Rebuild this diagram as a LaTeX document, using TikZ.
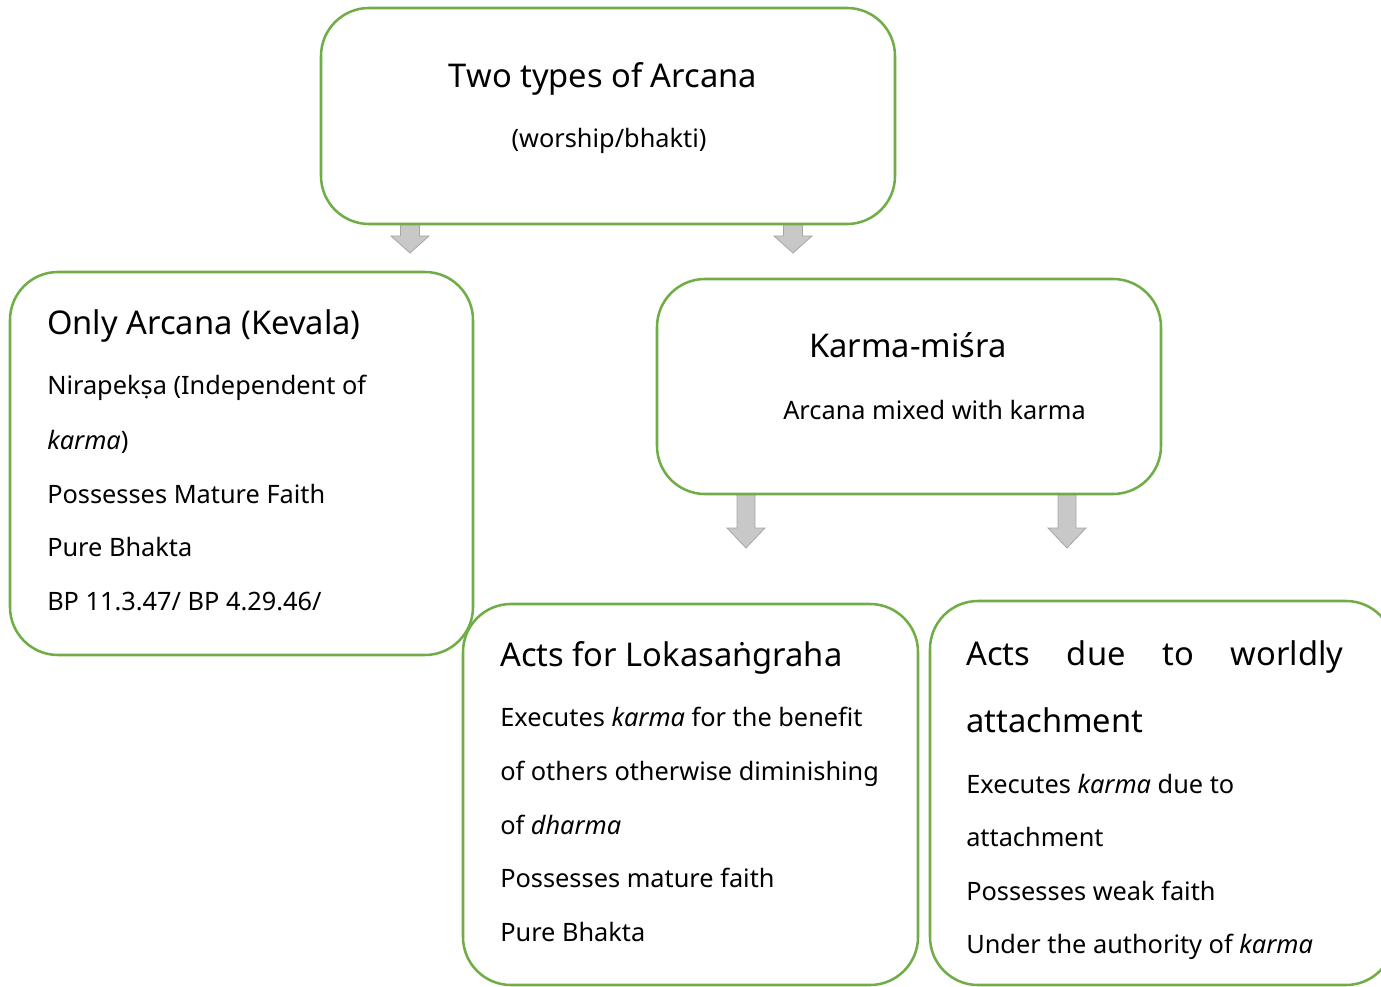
\documentclass[tikz,border=0pt]{standalone}
\usepackage{fontspec}
\setmainfont{Noto Sans}
\definecolor{boxgreen}{HTML}{70AD47}
\definecolor{arrowfill}{HTML}{C8C8C8}
\definecolor{arrowline}{HTML}{A6A6A6}
\newcommand{\headfont}{\fontsize{24.5pt}{30pt}\selectfont}
\newcommand{\bodyfont}{\fontsize{19pt}{24pt}\selectfont}
\tikzset{
  box/.style={draw=boxgreen, line width=1.9pt, rounded corners=36pt},
  blockarrow/.style={fill=arrowfill, draw=arrowline, line width=0.6pt},
  head/.style={anchor=base west, font=\headfont, inner sep=0pt},
  txt/.style={anchor=base west, font=\bodyfont, inner sep=0pt}
}
\begin{document}
\begin{tikzpicture}[x=0.75pt, y=-0.75pt]
\useasboundingbox (0,0) rectangle (1381,987);
\clip (0,0) rectangle (1381,987);
% block arrows
\filldraw[blockarrow] (400.5,224) -- (419.5,224) -- (419.5,236) -- (429,236) -- (410,253) -- (391,236) -- (400.5,236) -- cycle;
\filldraw[blockarrow] (783.5,224) -- (802.5,224) -- (802.5,236) -- (812,236) -- (793,253) -- (774,236) -- (783.5,236) -- cycle;
\filldraw[blockarrow] (737,494) -- (755,494) -- (755,528) -- (765,528) -- (746,548) -- (727,528) -- (737,528) -- cycle;
\filldraw[blockarrow] (1058,494) -- (1076,494) -- (1076,528) -- (1086,528) -- (1067,548) -- (1048,528) -- (1058,528) -- cycle;
% boxes
\draw[box] (321,8) rectangle (895,224);
\draw[box] (10,272) rectangle (473,655);
\draw[box] (657,279) rectangle (1161,494);
\draw[box] (463,604) rectangle (918,985);
\draw[box] (930,601) rectangle (1394,985);
% top box
\node[head, anchor=base] (title) at (603,88) {Two types of Arcana};
\node[txt, anchor=base] (titlesub) at (609,148) {(worship/bhakti)};
% only arcana
\node[head] (kevala) at (47,335) {Only Arcana (Kevala)};
\node[txt] (kevalaA) at (47,395) {Nirapekṣa (Independent of};
\node[txt] (kevalaB) at (47,449) {\textit{karma})};
\node[txt] (kevalaC) at (47,503) {Possesses Mature Faith};
\node[txt] (kevalaD) at (47,556) {Pure Bhakta};
\node[txt] (kevalaE) at (47,610) {BP 11.3.47/ BP 4.29.46/};
% karma-misra
\node[head] (misra) at (809,358) {Karma-miśra};
\node[txt] (misraA) at (783,420) {Arcana mixed with karma};
% lokasangraha
\node[head] (loka) at (500,666) {Acts for Lokasaṅgraha};
\node[txt] (lokaA) at (500,726) {Executes \textit{karma} for the benefit};
\node[txt] (lokaB) at (500,780) {of others otherwise diminishing};
\node[txt] (lokaC) at (500,834) {of \textit{dharma}};
\node[txt] (lokaD) at (500,887) {Possesses mature faith};
\node[txt] (lokaE) at (500,941) {Pure Bhakta};
% worldly attachment
\node[head] (world) at (966,665) {\makebox[282.75pt][s]{Acts due to worldly}};
\node[head] (worldB) at (966,732) {attachment};
\node[txt] (worldC) at (966,793) {Executes \textit{karma} due to};
\node[txt] (worldD) at (966,846) {attachment};
\node[txt] (worldE) at (966,900) {Possesses weak faith};
\node[txt] (worldF) at (966,953) {Under the authority of \textit{karma}};
\end{tikzpicture}
\end{document}
